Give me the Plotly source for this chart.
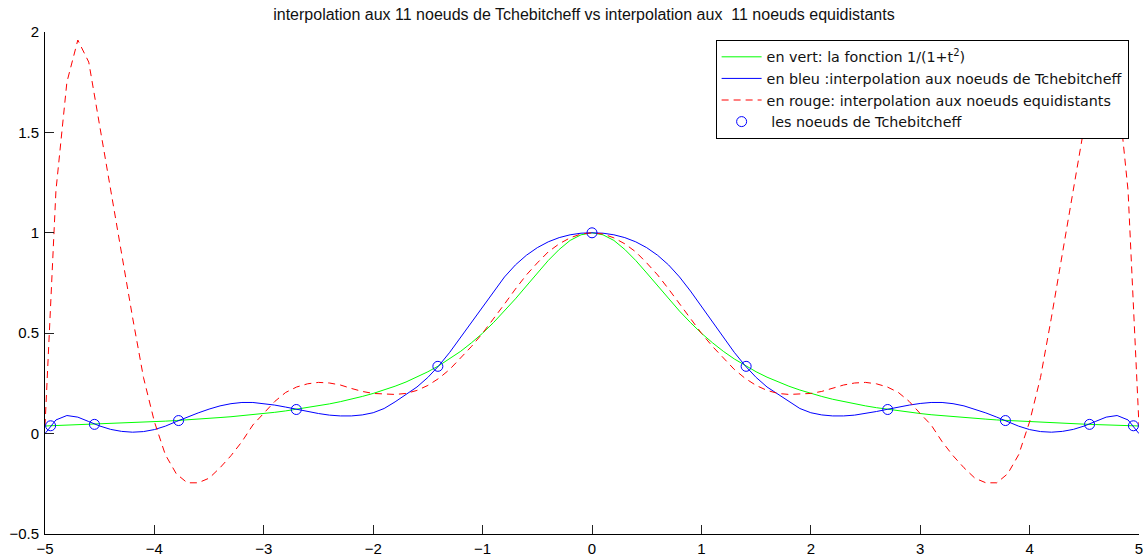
import plotly.graph_objects as go

# sample abscissae (step 0.1 from -5 to 5)
t = [round(-5 + 0.1 * i, 1) for i in range(101)]

# green: the function 1/(1+t^2)
f_vals = [
    0.038, 0.040, 0.042, 0.043, 0.045, 0.047, 0.049, 0.051, 0.054, 0.056,
    0.059, 0.062, 0.065, 0.068, 0.072, 0.075, 0.080, 0.084, 0.089, 0.094,
    0.100, 0.106, 0.113, 0.121, 0.129, 0.138, 0.148, 0.159, 0.171, 0.185,
    0.200, 0.217, 0.236, 0.257, 0.281, 0.308, 0.338, 0.372, 0.410, 0.453,
    0.500, 0.553, 0.610, 0.671, 0.735, 0.800, 0.862, 0.917, 0.962, 0.990,
    1.000,
    0.990, 0.962, 0.917, 0.862, 0.800, 0.735, 0.671, 0.610, 0.553, 0.500,
    0.453, 0.410, 0.372, 0.338, 0.308, 0.281, 0.257, 0.236, 0.217, 0.200,
    0.185, 0.171, 0.159, 0.148, 0.138, 0.129, 0.121, 0.113, 0.106, 0.100,
    0.094, 0.089, 0.084, 0.080, 0.075, 0.072, 0.068, 0.065, 0.062, 0.059,
    0.056, 0.054, 0.051, 0.049, 0.047, 0.045, 0.043, 0.042, 0.040, 0.038,
]

# blue: interpolation at Chebyshev nodes
cheb_vals = [
    0.000, 0.068, 0.090, 0.082, 0.060, 0.038, 0.021, 0.011, 0.007, 0.010,
    0.020, 0.037, 0.060, 0.082, 0.103, 0.122, 0.138, 0.149, 0.155, 0.155,
    0.150, 0.142, 0.132, 0.121, 0.110, 0.100, 0.092, 0.088, 0.088, 0.093,
    0.104, 0.125, 0.158, 0.195, 0.232, 0.280, 0.338, 0.405, 0.480, 0.555,
    0.633, 0.710, 0.780, 0.840, 0.888, 0.926, 0.955, 0.976, 0.990, 0.998,
    1.000,
    0.998, 0.990, 0.976, 0.955, 0.926, 0.888, 0.840, 0.780, 0.710, 0.633,
    0.555, 0.480, 0.405, 0.338, 0.280, 0.232, 0.195, 0.158, 0.125, 0.104,
    0.093, 0.088, 0.088, 0.092, 0.100, 0.110, 0.121, 0.132, 0.142, 0.150,
    0.155, 0.155, 0.149, 0.138, 0.122, 0.103, 0.082, 0.060, 0.037, 0.020,
    0.010, 0.007, 0.011, 0.021, 0.038, 0.060, 0.082, 0.090, 0.068, 0.000,
]

# red: interpolation at equidistant nodes
equi_vals = [
    0.038, 1.21, 1.75, 1.96, 1.85, 1.53, 1.22, 0.90, 0.58, 0.28,
    0.059, -0.105, -0.200, -0.245, -0.245, -0.222, -0.170, -0.110, -0.040, 0.043,
    0.100, 0.160, 0.205, 0.232, 0.248, 0.255, 0.252, 0.242, 0.225, 0.210,
    0.200, 0.196, 0.195, 0.200, 0.215, 0.240, 0.275, 0.320, 0.375, 0.435,
    0.500, 0.570, 0.645, 0.720, 0.790, 0.850, 0.905, 0.945, 0.975, 0.994,
    1.000,
    0.994, 0.975, 0.945, 0.905, 0.850, 0.790, 0.720, 0.645, 0.570, 0.500,
    0.435, 0.375, 0.320, 0.275, 0.240, 0.215, 0.200, 0.195, 0.196, 0.200,
    0.210, 0.225, 0.242, 0.252, 0.255, 0.248, 0.232, 0.205, 0.160, 0.100,
    0.043, -0.040, -0.110, -0.170, -0.222, -0.245, -0.245, -0.200, -0.105, 0.059,
    0.28, 0.58, 0.90, 1.22, 1.53, 1.85, 1.96, 1.75, 1.21, 0.038,
]

# Chebyshev nodes (markers)
node_x = [-4.949, -4.548, -3.779, -2.703, -1.409, 0.0, 1.409, 2.703, 3.779, 4.548, 4.949]
node_y = [0.039, 0.046, 0.065, 0.120, 0.335, 1.000, 0.335, 0.120, 0.065, 0.046, 0.039]

x_ticks = [-5, -4, -3, -2, -1, 0, 1, 2, 3, 4, 5]
y_ticks = [-0.5, 0, 0.5, 1, 1.5, 2]

title_text = "interpolation aux 11 noeuds de Tchebitcheff vs interpolation aux  11 noeuds equidistants"
names = [
    "en vert: la fonction 1/(1+t<sup>2</sup>)",
    "en bleu :interpolation aux noeuds de Tchebitcheff",
    "en rouge: interpolation aux noeuds equidistants",
    "\u00a0les noeuds de Tchebitcheff",
]

FONT = "Liberation Sans, Arial, Helvetica, sans-serif"
LEG_FONT = "DejaVu Sans, Liberation Sans, sans-serif"

fig = go.Figure()
fig.add_trace(go.Scatter(x=t, y=f_vals, mode="lines", name=names[0],
                         line=dict(color="#00ff00", width=1)))
fig.add_trace(go.Scatter(x=t, y=cheb_vals, mode="lines", name=names[1],
                         line=dict(color="#0000ff", width=1)))
fig.add_trace(go.Scatter(x=t, y=equi_vals, mode="lines", name=names[2],
                         line=dict(color="#ff0000", width=1, dash="7px,5px")))
fig.add_trace(go.Scatter(x=node_x, y=node_y, mode="markers", name=names[3],
                         marker=dict(symbol="circle-open", size=10, color="#0000ff",
                                     line=dict(width=1, color="#0000ff"))))

fig.update_layout(
    width=1145, height=557,
    margin=dict(l=45, r=6, t=32, b=23),
    paper_bgcolor="white", plot_bgcolor="white",
    font=dict(family=FONT, color="black", size=14),
    title=dict(text=title_text, x=0.510, xanchor="center", y=0.975, yanchor="middle",
               yref="container", font=dict(size=16, family=FONT, color="#111")),
    showlegend=True,
    legend=dict(x=0.613, xanchor="left", y=0.984, yanchor="top",
                bgcolor="white", bordercolor="black", borderwidth=1,
                font=dict(size=14.3, family=LEG_FONT, color="#111"),
                tracegroupgap=0, itemwidth=40),
)
fig.update_xaxes(range=[-5, 5], tickvals=x_ticks, ticks="inside", ticklen=9, tickwidth=1,
                 tickcolor="#222", showline=True, linecolor="black", linewidth=1,
                 mirror=False, showgrid=False, zeroline=False,
                 tickfont=dict(size=15, family=FONT, color="black"),
                 ticklabelstandoff=1, automargin=False)
fig.update_yaxes(range=[-0.5, 2], tickvals=y_ticks, ticks="inside", ticklen=9, tickwidth=1,
                 tickcolor="#222", showline=True, linecolor="black", linewidth=1,
                 mirror=False, showgrid=False, zeroline=False,
                 tickfont=dict(size=15, family=FONT, color="black"),
                 ticklabelstandoff=2, automargin=False)

fig.write_html("out.html")
